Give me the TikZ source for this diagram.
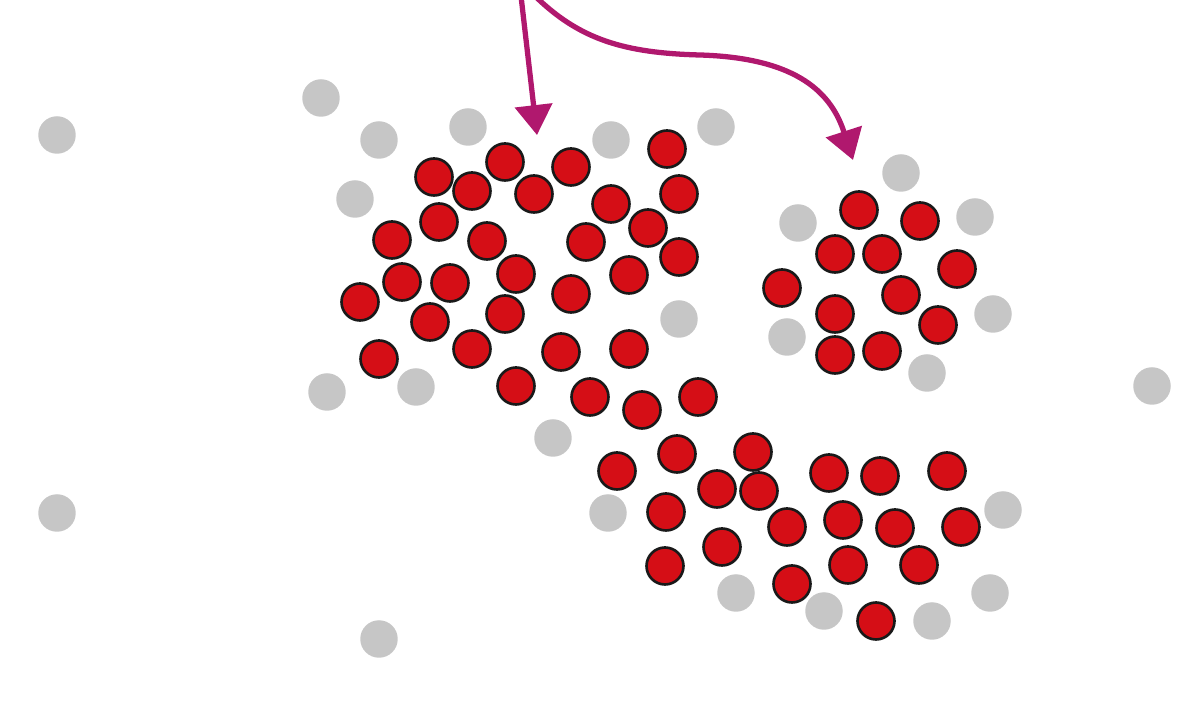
\documentclass[tikz,border=0pt]{standalone}
\usetikzlibrary{arrows.meta}
\definecolor{dotred}{HTML}{D50E16}
\definecolor{dotgray}{HTML}{C6C6C6}
\definecolor{arrowmag}{HTML}{B0186E}
\tikzset{
  reddot/.style={circle, draw=black!90, line width=1.5pt, fill=dotred, minimum size=0.74cm, inner sep=0pt},
  graydot/.style={circle, fill=dotgray, minimum size=0.75cm, inner sep=0pt},
  magarrow/.style={draw=arrowmag, line width=3pt, -{Triangle[width=21pt,length=17pt]}}
}
\begin{document}
\begin{tikzpicture}[x={(0.02cm,0)}, y={(0,-0.02cm)}]
\useasboundingbox (0,0) rectangle (1188,715);
% gray dots
\foreach \x/\y [count=\i] in {57/135, 57/513, 379/639, 1152/386, 553/438,
  321/98, 379/140, 468/127, 611/140, 716/127, 355/199, 679/319, 327/392, 416/387,
  901/173, 798/223, 975/217, 993/314, 787/337, 927/373,
  608/513, 736/593, 824/611, 932/621, 990/593, 1003/510}
  \node[graydot] (g\i) at (\x,\y) {};
% red dots
\foreach \x/\y [count=\i] in {505/162, 434/177, 472/191, 534/194, 571/167, 667/149, 611/204, 679/194,
  439/222, 392/240, 487/241, 586/242, 648/228, 679/257, 402/282, 450/283, 516/274, 629/275,
  571/294, 360/302, 430/322, 505/314, 379/359, 472/349, 561/352, 629/349, 516/386, 590/397,
  642/410, 698/397,
  859/210, 920/221, 835/254, 882/254, 957/269, 782/288, 901/295, 835/314, 938/325, 835/355, 882/351,
  617/471, 677/454, 753/452, 717/489, 759/491, 666/512, 829/473, 880/476, 947/471,
  787/527, 843/520, 895/528, 961/527, 722/547, 665/566, 848/565, 919/565, 792/584, 876/621}
  \node[reddot] (r\i) at (\x,\y) {};
% arrows
\coordinate (s1) at (521,-4);
\coordinate (t1) at (537,135);
\coordinate (s2) at (535,-4);
\coordinate (m2) at (700,55);
\coordinate (t2) at (853,160);
\draw[magarrow] (s1) -- (t1);
\draw[magarrow] (s2) .. controls (580,40) and (625,53) .. (m2) .. controls (800,58) and (832,95) .. (t2);
\end{tikzpicture}
\end{document}
